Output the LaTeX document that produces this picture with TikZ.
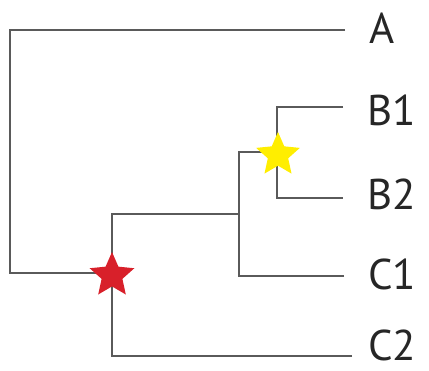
\documentclass[tikz,border=0pt]{standalone}
\usepackage{fontspec}
\setmainfont{PT Sans}
\usetikzlibrary{shapes.geometric}
\definecolor{linegray}{HTML}{5A5A5A}
\definecolor{starred}{HTML}{D8202A}
\definecolor{staryellow}{HTML}{FFEE00}
\tikzset{
  branch/.style={draw=linegray, line width=2.7pt},
  leaf/.style={anchor=west, inner sep=0pt, font=\fontsize{43}{43}\selectfont, text=black!85},
  starmark/.style={star, star points=5, star point ratio=2.15, minimum size=47pt, inner sep=0pt, draw=none}
}
\begin{document}
\begin{tikzpicture}[x=1pt,y=-1pt]
\useasboundingbox (0,0) rectangle (429,371);
% junction coordinates
\coordinate (root) at (10,273);
\coordinate (red) at (112,273);
\coordinate (inner) at (239,214);
\coordinate (yel) at (277,152);
% branch ends
\coordinate (eA) at (345,30);
\coordinate (eB1) at (343,107);
\coordinate (eB2) at (343,198);
\coordinate (eC1) at (344,276);
\coordinate (eC2) at (352,356);
% labels
\node[leaf] (A) at (369,28) {A};
\node[leaf] (B1) at (367,110) {B1};
\node[leaf] (B2) at (367,194) {B2};
\node[leaf] (C1) at (368,274) {C1};
\node[leaf] (C2) at (368,345) {C2};
% branches
\draw[branch] (eA) -| (root) -- (red);
\draw[branch] (eC2) -| (red) |- (inner);
\draw[branch] (eC1) -| (inner) |- (yel);
\draw[branch] (eB1) -| (yel) |- (eB2);
% stars
\node[starmark, fill=starred] (redstar) at (112,275.5) {};
\node[starmark, fill=staryellow, minimum size=46pt] (yelstar) at (278,155) {};
\end{tikzpicture}
\end{document}
